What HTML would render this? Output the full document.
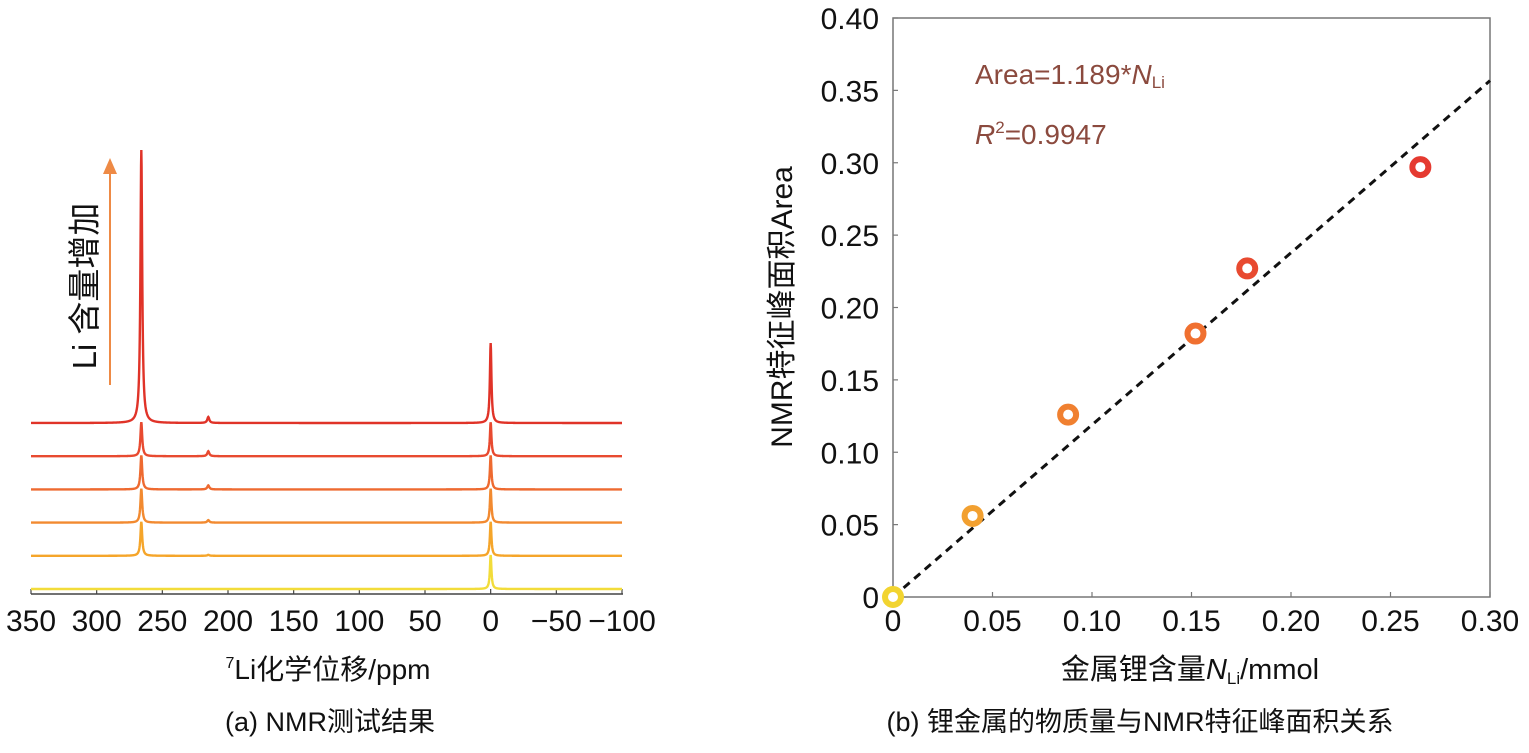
<!DOCTYPE html>
<html><head><meta charset="utf-8">
<style>
body{margin:0;background:#fff;}
svg{display:block;font-family:"Liberation Sans","Noto Sans CJK SC",sans-serif;}
</style></head>
<body>
<svg width="1529" height="753" viewBox="0 0 1529 753">
<g id="left"></g>
<g id="right"></g>
</svg>
<script>
const NS="http://www.w3.org/2000/svg";
function mk(tag,attrs,parent,text){const e=document.createElementNS(NS,tag);for(const k in attrs)e.setAttribute(k,attrs[k]);if(text!==undefined)e.textContent=text;parent.appendChild(e);return e;}

// ---------- Left chart data ----------
const ppmTicks=[350,300,250,200,150,100,50,0,-50,-100];
const ppmTickLabels=["350","300","250","200","150","100","50","0","\u221250","\u2212100"];
const traceColors=["#f2dc3a","#f5a52a","#f28a30","#ee6a30","#e84a30","#e03328"];
const traceMetalPeak=[0,34,34,34,34,273];
const traceRefPeak=[34,34,34,34,34,80];
const traceSmallPeak=[0,1,2.5,4,5,6];
const metalPpm=266, refPpm=0, smallPpm=215;

const L=document.getElementById('left');
const xL=p=>31+(350-p)*(591/450);
const baseY=i=>589-i*33.2;
const intens=v=>v*1.0;

const ax=mk('line',{x1:31,y1:594,x2:623,y2:594,stroke:'#444','stroke-width':1.5},L);


ppmTicks.forEach((t,i)=>{
  const tk=mk('line',{x1:xL(t),y1:589,x2:xL(t),y2:594,stroke:'#444','stroke-width':1.2},L);
  
  
  const lb=mk('text',{x:xL(t),y:631,'font-size':30,'text-anchor':'middle',fill:'#111'},L,ppmTickLabels[i]);
  
  
});
function lor(p,c,h,w){return h*w*w/((p-c)*(p-c)+w*w);}
traceColors.forEach((col,i)=>{
  let d='';
  for(let k=0;k<=2250;k++){
    const p=350-k*0.2;
    const v=lor(p,metalPpm,traceMetalPeak[i],0.8)+lor(p,refPpm,traceRefPeak[i],0.7)+lor(p,smallPpm,traceSmallPeak[i],0.9);
    d+=(d?'L':'M')+xL(p).toFixed(2)+','+(baseY(i)-intens(v)).toFixed(2);
  }
  const pth=mk('path',{d:d,fill:'none',stroke:col,'stroke-width':2.4},L);
  
  
});
const ar=mk('line',{x1:110,y1:385,x2:110,y2:172,stroke:'#ee8a45','stroke-width':2},L);


const ah=mk('polygon',{points:'103,174 117,174 110,158',fill:'#ee8a45'},L);


const at=mk('text',{x:0,y:0,'font-size':33,'text-anchor':'middle',fill:'#111',transform:'translate(96,286) rotate(-90)'},L,'Li 含量增加');


const xt=mk('text',{x:328,y:679,'font-size':28,'text-anchor':'middle',fill:'#111'},L);


mk('tspan',{'font-size':16,dy:-11},xt,'7');
mk('tspan',{dy:11},xt,'Li化学位移/ppm');
const ca=mk('text',{x:330,y:731,'font-size':27,'text-anchor':'middle',fill:'#111'},L,'(a) NMR测试结果');



// ---------- Right chart data ----------
const nLi=[0,0.04,0.088,0.152,0.178,0.265];
const areaVals=[0,0.056,0.126,0.182,0.227,0.297];
const ptColors=["#f2d430","#f2a030","#f08030","#f07030","#e84a30","#e53a30"];
const xTicks=[0,0.05,0.10,0.15,0.20,0.25,0.30];
const xTickLabels=["0","0.05","0.10","0.15","0.20","0.25","0.30"];
const yTicks=[0,0.05,0.10,0.15,0.20,0.25,0.30,0.35,0.40];
const yTickLabels=["0","0.05","0.10","0.15","0.20","0.25","0.30","0.35","0.40"];
const slope=1.189;

const R=document.getElementById('right');
const X0=893,X1=1490,Y0=597,Y1=18;
const xR=v=>X0+v/0.30*(X1-X0);
const yR=v=>Y0-v/0.40*(Y0-Y1);
const fr=mk('rect',{x:X0,y:Y1,width:X1-X0,height:Y0-Y1,fill:'none',stroke:'#777','stroke-width':1.5},R);


xTicks.forEach((t,i)=>{
  const tk=mk('line',{x1:xR(t),y1:Y0,x2:xR(t),y2:Y0-5,stroke:'#777','stroke-width':1.2},R);
  
  
  const lb=mk('text',{x:xR(t),y:631,'font-size':30,'text-anchor':'middle',fill:'#111'},R,xTickLabels[i]);
  
  
});
yTicks.forEach((t,i)=>{
  const tk=mk('line',{x1:X0,y1:yR(t),x2:X0+5,y2:yR(t),stroke:'#777','stroke-width':1.2},R);
  
  
  const lb=mk('text',{x:879,y:yR(t)+11,'font-size':30,'text-anchor':'end',fill:'#111'},R,yTickLabels[i]);
  
  
});
const fit=mk('line',{x1:xR(0),y1:yR(0),x2:xR(0.30),y2:yR(slope*0.30),stroke:'#111','stroke-width':3,'stroke-dasharray':'8,6'},R);


nLi.forEach((v,i)=>{
  const c=mk('circle',{cx:xR(v),cy:yR(areaVals[i]),r:8,fill:'#fff',stroke:ptColors[i],'stroke-width':6},R);
  
  
});
const eq=mk('text',{x:975,y:84,'font-size':28,fill:'#8b4a3e'},R);


mk('tspan',{},eq,'Area=1.189*');
mk('tspan',{'font-style':'italic'},eq,'N');
mk('tspan',{'font-size':17,dy:4},eq,'Li');
const r2=mk('text',{x:975,y:144,'font-size':28,fill:'#8b4a3e'},R);


mk('tspan',{'font-style':'italic'},r2,'R');
mk('tspan',{'font-size':17,dy:-11},r2,'2');
mk('tspan',{dy:11},r2,'=0.9947');
const yt=mk('text',{x:0,y:0,'font-size':30,'text-anchor':'middle',fill:'#111',transform:'translate(792,307) rotate(-90)'},R,'NMR特征峰面积Area');


const xr=mk('text',{x:1190,y:679,'font-size':29,'text-anchor':'middle',fill:'#111'},R);


mk('tspan',{},xr,'金属锂含量');
mk('tspan',{'font-style':'italic'},xr,'N');
mk('tspan',{'font-size':17,dy:5},xr,'Li');
mk('tspan',{dy:-5},xr,'/mmol');
const cb=mk('text',{x:1140,y:731,'font-size':27,'text-anchor':'middle',fill:'#111'},R,'(b) 锂金属的物质量与NMR特征峰面积关系');


</script>
</body></html>
